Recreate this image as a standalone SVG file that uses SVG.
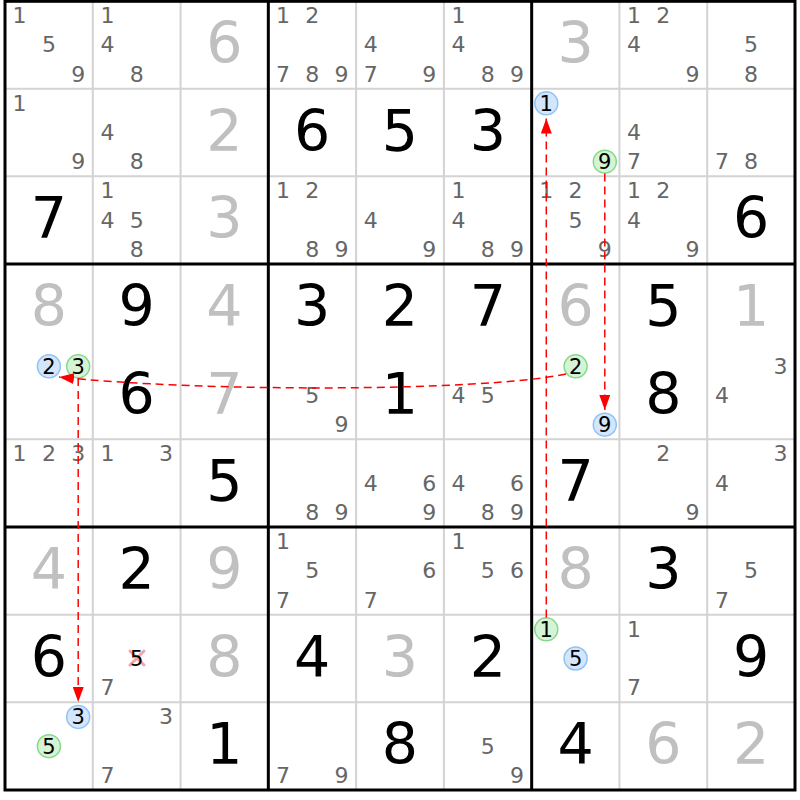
<svg xmlns="http://www.w3.org/2000/svg" width="800" height="800" viewBox="0 0 800 800">
<style>
text{font-family:"DejaVu Sans","Liberation Sans",sans-serif;text-anchor:middle}
.g{font-size:57px;fill:#000}
.s{font-size:57px;fill:#c0c0c0}
.p{font-size:22px;fill:#666}
.h{font-size:21px;fill:#000}
.cb{fill:#d3e6fb;stroke:#8fc2f5;stroke-width:1.5}
.cg{fill:#d5f3d5;stroke:#86d98a;stroke-width:1.5}
.thin{stroke:#d3d3d3;stroke-width:2}
.thick{stroke:#000;stroke-width:3}
.link{stroke:#f00;stroke-width:1.5;stroke-dasharray:8 5;fill:none;marker-end:url(#arr)}
.x{stroke:#f5a3a8;stroke-width:3;stroke-linecap:round}
</style>
<defs>
<marker id="arr" markerUnits="userSpaceOnUse" markerWidth="15" markerHeight="11" refX="15" refY="5.5" orient="auto">
<path d="M0,0 L15,5.5 L0,11 z" fill="#f00"/>
</marker>
</defs>
<rect x="0" y="0" width="800" height="800" fill="#fff"/>
<g id="grid">
<path class="thin" d="M92.78,1V790M180.56,1V790M356.11,1V790M443.89,1V790M619.44,1V790M707.22,1V790M5,88.67H795M5,176.33H795M5,439.33H795M5,527H795M5,614.67H795M5,702.33H795"/>
<path class="thick" d="M268.33,1V790M531.67,1V790M5,264H795M5,527H795"/>
<rect x="5" y="1.3" width="790" height="788.7" fill="none" stroke="#000" stroke-width="3"/>
</g>
<g id="r0c0"><text class="p" x="19.6" y="23.1">1</text><text class="p" x="48.9" y="52.3">5</text><text class="p" x="78.2" y="81.6">9</text></g>
<g id="r0c1"><text class="p" x="107.4" y="23.1">1</text><text class="p" x="107.4" y="52.3">4</text><text class="p" x="136.7" y="81.6">8</text></g>
<g id="r0c2"><text class="s" x="224.4" y="62.8">6</text></g>
<g id="r0c3"><text class="p" x="283" y="23.1">1</text><text class="p" x="312.2" y="23.1">2</text><text class="p" x="283" y="81.6">7</text><text class="p" x="312.2" y="81.6">8</text><text class="p" x="341.5" y="81.6">9</text></g>
<g id="r0c4"><text class="p" x="370.7" y="52.3">4</text><text class="p" x="370.7" y="81.6">7</text><text class="p" x="429.3" y="81.6">9</text></g>
<g id="r0c5"><text class="p" x="458.5" y="23.1">1</text><text class="p" x="458.5" y="52.3">4</text><text class="p" x="487.8" y="81.6">8</text><text class="p" x="517" y="81.6">9</text></g>
<g id="r0c6"><text class="s" x="575.6" y="62.8">3</text></g>
<g id="r0c7"><text class="p" x="634.1" y="23.1">1</text><text class="p" x="663.3" y="23.1">2</text><text class="p" x="634.1" y="52.3">4</text><text class="p" x="692.6" y="81.6">9</text></g>
<g id="r0c8"><text class="p" x="751.1" y="52.3">5</text><text class="p" x="751.1" y="81.6">8</text></g>

<g id="r1c0"><text class="p" x="19.6" y="110.8">1</text><text class="p" x="78.2" y="169.2">9</text></g>
<g id="r1c1"><text class="p" x="107.4" y="140">4</text><text class="p" x="136.7" y="169.2">8</text></g>
<g id="r1c2"><text class="s" x="224.4" y="150.5">2</text></g>
<g id="r1c3"><text class="g" x="312.2" y="150.5">6</text></g>
<g id="r1c4"><text class="g" x="400" y="150.5">5</text></g>
<g id="r1c5"><text class="g" x="487.8" y="150.5">3</text></g>
<g id="r1c6"><circle class="cb" cx="546.3" cy="103.3" r="11.5"/><text class="h" x="546.3" y="110.8">1</text><circle class="cg" cx="604.8" cy="161.7" r="11.5"/><text class="h" x="604.8" y="169.2">9</text></g>
<g id="r1c7"><text class="p" x="634.1" y="140">4</text><text class="p" x="634.1" y="169.2">7</text></g>
<g id="r1c8"><text class="p" x="721.9" y="169.2">7</text><text class="p" x="751.1" y="169.2">8</text></g>

<g id="r2c0"><text class="g" x="48.9" y="238.2">7</text></g>
<g id="r2c1"><text class="p" x="107.4" y="198.4">1</text><text class="p" x="107.4" y="227.7">4</text><text class="p" x="136.7" y="227.7">5</text><text class="p" x="136.7" y="256.9">8</text></g>
<g id="r2c2"><text class="s" x="224.4" y="238.2">3</text></g>
<g id="r2c3"><text class="p" x="283" y="198.4">1</text><text class="p" x="312.2" y="198.4">2</text><text class="p" x="312.2" y="256.9">8</text><text class="p" x="341.5" y="256.9">9</text></g>
<g id="r2c4"><text class="p" x="370.7" y="227.7">4</text><text class="p" x="429.3" y="256.9">9</text></g>
<g id="r2c5"><text class="p" x="458.5" y="198.4">1</text><text class="p" x="458.5" y="227.7">4</text><text class="p" x="487.8" y="256.9">8</text><text class="p" x="517" y="256.9">9</text></g>
<g id="r2c6"><text class="p" x="546.3" y="198.4">1</text><text class="p" x="575.6" y="198.4">2</text><text class="p" x="575.6" y="227.7">5</text><text class="p" x="604.8" y="256.9">9</text></g>
<g id="r2c7"><text class="p" x="634.1" y="198.4">1</text><text class="p" x="663.3" y="198.4">2</text><text class="p" x="634.1" y="227.7">4</text><text class="p" x="692.6" y="256.9">9</text></g>
<g id="r2c8"><text class="g" x="751.1" y="238.2">6</text></g>

<g id="r3c0"><text class="s" x="48.9" y="325.8">8</text></g>
<g id="r3c1"><text class="g" x="136.7" y="325.8">9</text></g>
<g id="r3c2"><text class="s" x="224.4" y="325.8">4</text></g>
<g id="r3c3"><text class="g" x="312.2" y="325.8">3</text></g>
<g id="r3c4"><text class="g" x="400" y="325.8">2</text></g>
<g id="r3c5"><text class="g" x="487.8" y="325.8">7</text></g>
<g id="r3c6"><text class="s" x="575.6" y="325.8">6</text></g>
<g id="r3c7"><text class="g" x="663.3" y="325.8">5</text></g>
<g id="r3c8"><text class="s" x="751.1" y="325.8">1</text></g>

<g id="r4c0"><circle class="cb" cx="48.9" cy="366.3" r="11.5"/><text class="h" x="48.9" y="373.8">2</text><circle class="cg" cx="78.2" cy="366.3" r="11.5"/><text class="h" x="78.2" y="373.8">3</text></g>
<g id="r4c1"><text class="g" x="136.7" y="413.5">6</text></g>
<g id="r4c2"><text class="s" x="224.4" y="413.5">7</text></g>
<g id="r4c3"><text class="p" x="312.2" y="403">5</text><text class="p" x="341.5" y="432.2">9</text></g>
<g id="r4c4"><text class="g" x="400" y="413.5">1</text></g>
<g id="r4c5"><text class="p" x="458.5" y="403">4</text><text class="p" x="487.8" y="403">5</text></g>
<g id="r4c6"><circle class="cg" cx="575.6" cy="366.3" r="11.5"/><text class="h" x="575.6" y="373.8">2</text><circle class="cb" cx="604.8" cy="424.7" r="11.5"/><text class="h" x="604.8" y="432.2">9</text></g>
<g id="r4c7"><text class="g" x="663.3" y="413.5">8</text></g>
<g id="r4c8"><text class="p" x="780.4" y="373.8">3</text><text class="p" x="721.9" y="403">4</text></g>

<g id="r5c0"><text class="p" x="19.6" y="461.4">1</text><text class="p" x="48.9" y="461.4">2</text><text class="p" x="78.2" y="461.4">3</text></g>
<g id="r5c1"><text class="p" x="107.4" y="461.4">1</text><text class="p" x="165.9" y="461.4">3</text></g>
<g id="r5c2"><text class="g" x="224.4" y="501.2">5</text></g>
<g id="r5c3"><text class="p" x="312.2" y="519.9">8</text><text class="p" x="341.5" y="519.9">9</text></g>
<g id="r5c4"><text class="p" x="370.7" y="490.7">4</text><text class="p" x="429.3" y="490.7">6</text><text class="p" x="429.3" y="519.9">9</text></g>
<g id="r5c5"><text class="p" x="458.5" y="490.7">4</text><text class="p" x="517" y="490.7">6</text><text class="p" x="487.8" y="519.9">8</text><text class="p" x="517" y="519.9">9</text></g>
<g id="r5c6"><text class="g" x="575.6" y="501.2">7</text></g>
<g id="r5c7"><text class="p" x="663.3" y="461.4">2</text><text class="p" x="692.6" y="519.9">9</text></g>
<g id="r5c8"><text class="p" x="780.4" y="461.4">3</text><text class="p" x="721.9" y="490.7">4</text></g>

<g id="r6c0"><text class="s" x="48.9" y="588.8">4</text></g>
<g id="r6c1"><text class="g" x="136.7" y="588.8">2</text></g>
<g id="r6c2"><text class="s" x="224.4" y="588.8">9</text></g>
<g id="r6c3"><text class="p" x="283" y="549.1">1</text><text class="p" x="312.2" y="578.3">5</text><text class="p" x="283" y="607.6">7</text></g>
<g id="r6c4"><text class="p" x="429.3" y="578.3">6</text><text class="p" x="370.7" y="607.6">7</text></g>
<g id="r6c5"><text class="p" x="458.5" y="549.1">1</text><text class="p" x="487.8" y="578.3">5</text><text class="p" x="517" y="578.3">6</text></g>
<g id="r6c6"><text class="s" x="575.6" y="588.8">8</text></g>
<g id="r6c7"><text class="g" x="663.3" y="588.8">3</text></g>
<g id="r6c8"><text class="p" x="751.1" y="578.3">5</text><text class="p" x="721.9" y="607.6">7</text></g>

<g id="r7c0"><text class="g" x="48.9" y="676.5">6</text></g>
<g id="r7c1"><line class="x" x1="130" y1="651" x2="144" y2="665"/><line class="x" x1="144" y1="651" x2="130" y2="665"/><text class="h" x="136.7" y="666">5</text><text class="p" x="107.4" y="695.2">7</text></g>
<g id="r7c2"><text class="s" x="224.4" y="676.5">8</text></g>
<g id="r7c3"><text class="g" x="312.2" y="676.5">4</text></g>
<g id="r7c4"><text class="s" x="400" y="676.5">3</text></g>
<g id="r7c5"><text class="g" x="487.8" y="676.5">2</text></g>
<g id="r7c6"><circle class="cg" cx="546.3" cy="629.3" r="11.5"/><text class="h" x="546.3" y="636.8">1</text><circle class="cb" cx="575.6" cy="658.5" r="11.5"/><text class="h" x="575.6" y="666">5</text></g>
<g id="r7c7"><text class="p" x="634.1" y="636.8">1</text><text class="p" x="634.1" y="695.2">7</text></g>
<g id="r7c8"><text class="g" x="751.1" y="676.5">9</text></g>

<g id="r8c0"><circle class="cb" cx="78.2" cy="716.9" r="11.5"/><text class="h" x="78.2" y="724.4">3</text><circle class="cg" cx="48.9" cy="746.2" r="11.5"/><text class="h" x="48.9" y="753.7">5</text></g>
<g id="r8c1"><text class="p" x="165.9" y="724.4">3</text><text class="p" x="107.4" y="782.9">7</text></g>
<g id="r8c2"><text class="g" x="224.4" y="764.2">1</text></g>
<g id="r8c3"><text class="p" x="283" y="782.9">7</text><text class="p" x="341.5" y="782.9">9</text></g>
<g id="r8c4"><text class="g" x="400" y="764.2">8</text></g>
<g id="r8c5"><text class="p" x="487.8" y="753.7">5</text><text class="p" x="517" y="782.9">9</text></g>
<g id="r8c6"><text class="g" x="575.6" y="764.2">4</text></g>
<g id="r8c7"><text class="s" x="663.3" y="764.2">6</text></g>
<g id="r8c8"><text class="s" x="751.1" y="764.2">2</text></g>

<g id="connectors">
<path class="link" d="M546.3,617.5 L546.3,118.5"/>
<path class="link" d="M604.8,173.5 L604.8,410"/>
<path class="link" d="M566,374 C480,392 200,392 59,377"/>
<path class="link" d="M78.2,378 L78.2,702"/>
</g>
</svg>
